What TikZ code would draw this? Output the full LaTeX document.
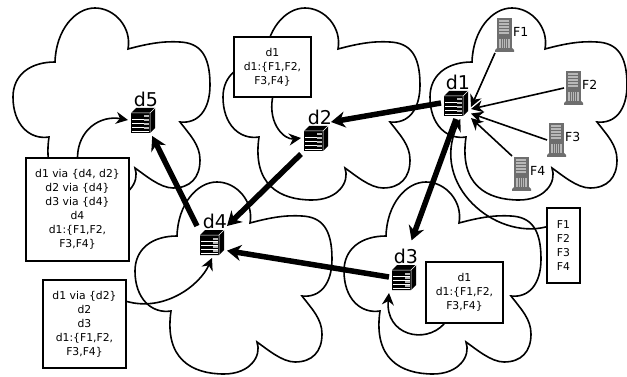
\documentclass[tikz,border=0pt]{standalone}
\usepackage{fontspec}
\setmainfont{DejaVu Sans}
\usetikzlibrary{arrows.meta,positioning}
\definecolor{TowerGrey}{HTML}{6E6E6E}
\definecolor{TowerLight}{HTML}{B8B8B8}
\tikzset{
  netcloud/.pic={\draw[line width=1.6pt] (55,62) .. controls (56,30) and (75,8) .. (95,8) .. controls (115,8) and (132,28) .. (128,49) .. controls (150,43) and (165,41) .. (180,42) .. controls (200,43) and (210,55) .. (210,85) .. controls (210,110) and (198,124) .. (180,122) .. controls (190,135) and (200,145) .. (200,160) .. controls (200,178) and (190,188) .. (173,188) .. controls (160,188) and (145,175) .. (135,168) .. controls (140,182) and (128,200) .. (102,200) .. controls (70,200) and (42,185) .. (49,137) .. controls (30,140) and (13,125) .. (13,97) .. controls (13,75) and (30,62) .. (55,62) -- cycle;},
  dnsbox/.style={minimum width=26pt,minimum height=28pt,inner sep=0pt,outer sep=2pt,fill=white,path picture={
    \begin{scope}[shift={(path picture bounding box.center)}]
    \fill[black] (-12,-7) -- (-7,-12) -- (12,-12) -- (12,8) -- (7,13) -- (-12,13) -- cycle;
    \draw[white,line width=.5pt] (-12,-7) -- (7,-7) -- (12,-12) (7,-7) -- (7,13);
    \foreach \rowy in {-3,1,5,9}{\draw[white,line width=.8pt] (-11,\rowy+2) -- (6,\rowy+2); \fill[TowerLight] (1,\rowy-1.5) rectangle (5.5,\rowy+.5);}
    \end{scope}}},
  filetower/.style={minimum width=20pt,minimum height=36pt,inner sep=0pt,outer sep=0pt,path picture={
    \begin{scope}[shift={(path picture bounding box.center)}]
    \fill[TowerGrey] (-8,-17) rectangle (7,15);
    \fill[TowerGrey] (-10,15) -- (-8,13) -- (7,13) -- (9,15) -- (9,17) -- (-10,17) -- cycle;
    \foreach \rowy in {-15,-12,-9,-6,-3}{\fill[TowerLight] (-6,\rowy) rectangle (4,\rowy+2);}
    \fill[TowerLight] (-6,4) rectangle (5,13);
    \foreach \colx in {-4,-2,0,2}{\draw[TowerGrey,line width=.5pt] (\colx,4) -- (\colx,13);}
    \end{scope}}},
  dlabel/.style={font=\fontsize{19}{19}\selectfont,inner sep=0pt},
  flabel/.style={font=\fontsize{12.5}{14}\selectfont,inner sep=0pt},
  tablebox/.style={draw,line width=1.7pt,fill=white,align=center,inner sep=0pt,font=\fontsize{10.8}{14}\selectfont},
  thinarrow/.style={line width=1.6pt,-{Stealth[length=12pt,width=12pt]}},
  thickarrow/.style={line width=5.5pt,-{Stealth[length=14pt,width=16pt]}}
}
\begin{document}
\begin{tikzpicture}[x=1pt,y=-1pt]
\useasboundingbox (0,0) rectangle (627,377);
\pic at (0,0) {netcloud}; \pic at (210,0) {netcloud}; \pic at (417,0) {netcloud}; \pic at (122,174) {netcloud}; \pic at (331,174) {netcloud};
\node[tablebox,minimum width=77pt,minimum height=60pt] (tab2) at (272.5,67){d1\\d1:\{F1,F2,\\F3,F4\}};
\node[tablebox,minimum width=103pt,minimum height=103pt] (tab5) at (77.5,209.5){d1 via \{d4, d2\}\\d2 via \{d4\}\\d3 via \{d4\}\\d4\\d1:\{F1,F2,\\F3,F4\}};
\node[tablebox,minimum width=83pt,minimum height=88pt] (tab4) at (84.5,324){d1 via \{d2\}\\d2\\d3\\d1:\{F1,F2,\\F3,F4\}};
\node[tablebox,minimum width=77pt,minimum height=61pt] (tab3) at (464.5,292.5){d1\\d1:\{F1,F2,\\F3,F4\}};
\node[tablebox,minimum width=33pt,minimum height=75pt] (tabF) at (563.5,245.5){F1\\F2\\F3\\F4};
\node[dnsbox] (d1) at (456,103){}; \node[dlabel,above=-3pt of d1,xshift=2pt] (d1name){d1};
\node[dnsbox] (d2) at (316,138){}; \node[dlabel,above=-3pt of d2,xshift=4pt] (d2name){d2};
\node[dnsbox] (d3) at (404,277){}; \node[dlabel,above=-3pt of d3,xshift=2pt] (d3name){d3};
\node[dnsbox] (d4) at (212,242){}; \node[dlabel,above=-3pt of d4,xshift=3pt] (d4name){d4};
\node[dnsbox] (d5) at (143,120){}; \node[dlabel,above=-3pt of d5,xshift=3pt] (d5name){d5};
\node[filetower] (F1) at (505,35){}; \node[flabel,right=-2pt of F1,yshift=3pt] (F1name){F1};
\node[filetower] (F2) at (574,88){}; \node[flabel,right=-2pt of F2,yshift=3pt] (F2name){F2};
\node[filetower] (F3) at (557,140){}; \node[flabel,right=-2pt of F3,yshift=3pt] (F3name){F3};
\node[filetower] (F4) at (522,174){}; \node[flabel,right=-2pt of F4,yshift=3pt] (F4name){F4};
\draw[thinarrow] (F1.south west)--(d1.-15);
\draw[thinarrow] (F2.west)--(d1.-22);
\draw[thinarrow] (F3.west)--(d1.-35);
\draw[thinarrow] (F4.north west)--(d1.-45);
\draw[thinarrow] (tabF.133) .. controls (495,240) and (430,185) .. (d1.-75);
\draw[thinarrow] (tab3.-123) .. controls (425,345) and (385,335) .. (d3.south west);
\draw[thinarrow] (tab2.south) .. controls (268,125) and (285,140) .. (d2.west);
\draw[thinarrow] (tab5.north) .. controls (78,130) and (100,115) .. (d5.west);
\draw[thinarrow] (tab4.28) .. controls (165,312) and (200,285) .. (d4.south);
\draw[thickarrow] (d1.west)--(d2.north east);
\draw[thickarrow] (d2.south west)--(d4.north east);
\draw[thickarrow] (d4.north west)--(d5.-60);
\draw[thickarrow] (d3.west)--(d4.-30);
\draw[thickarrow,shorten >=22pt] (d1.south)--(d3.north);
\end{tikzpicture}
\end{document}
